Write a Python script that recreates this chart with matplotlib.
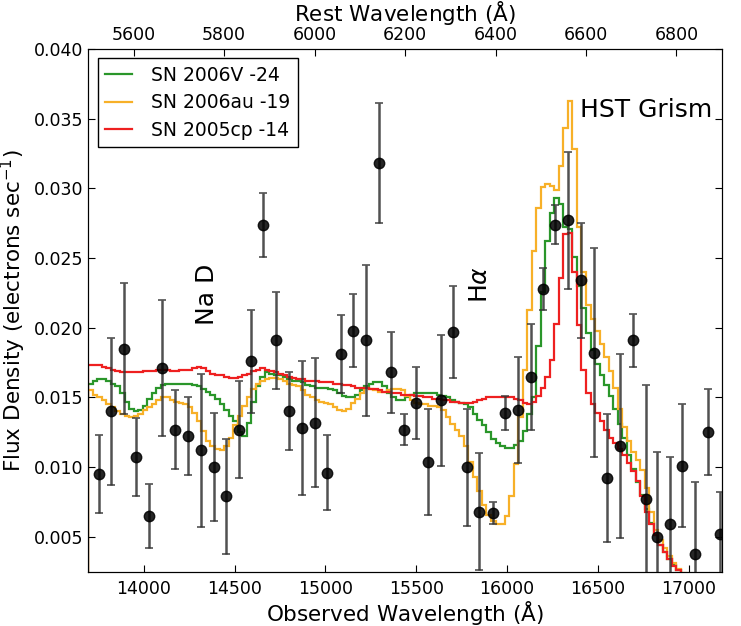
import numpy as np
import matplotlib
matplotlib.use('Agg')
import matplotlib.pyplot as plt

z = 1.49

# model spectra, 10 A bins in the rest frame (5500-6900 A)
rest_edges = np.arange(5500, 6901, 10)

sn2005cp = [
    0.01734, 0.01732, 0.0173, 0.0172, 0.0171, 0.0170, 0.0169, 0.0168, 0.0168, 0.0168,
    0.0168, 0.0168, 0.0169, 0.0169, 0.0169, 0.0170, 0.0170, 0.0170, 0.0169, 0.0169,
    0.0170, 0.0170, 0.0170, 0.0171, 0.0172, 0.0171, 0.0169, 0.0167, 0.0166, 0.0166,
    0.0165, 0.0164, 0.0164, 0.0165, 0.0166, 0.0167, 0.0169, 0.0170, 0.0171, 0.0170,
    0.0169, 0.0168, 0.0167, 0.0166, 0.0165, 0.0164, 0.0163, 0.0163, 0.0162, 0.0162,
    0.0162, 0.0161, 0.0161, 0.0161, 0.0160, 0.0160, 0.0159, 0.0159, 0.0158, 0.0157,
    0.0157, 0.0157, 0.0156, 0.0156, 0.0155, 0.0154, 0.0154, 0.0153, 0.0153, 0.0152,
    0.0152, 0.0152, 0.0151, 0.0151, 0.0150, 0.0150, 0.0149, 0.0149, 0.0148, 0.0148,
    0.0147, 0.0147, 0.0146, 0.0146, 0.0146, 0.0147, 0.0148, 0.0149, 0.0150, 0.0150,
    0.0150, 0.0150, 0.0150, 0.0150, 0.0149, 0.0148, 0.0146, 0.0145, 0.0147, 0.0151,
    0.0157, 0.0165, 0.0177, 0.0203, 0.0236, 0.0267, 0.0268, 0.0240, 0.0202, 0.0170,
    0.0153, 0.0145, 0.0139, 0.0133, 0.0127, 0.0121, 0.0117, 0.0113, 0.0109, 0.0103,
    0.0097, 0.0090, 0.0079, 0.0068, 0.0059, 0.0051, 0.0044, 0.0039, 0.0034, 0.0029,
    0.0026, 0.0023, 0.0021, 0.0019, 0.0017, 0.0015, 0.0014, 0.0013, 0.0012, 0.0011,
]

sn2006v = [
    0.0160, 0.0162, 0.0163, 0.0163, 0.0162, 0.0160, 0.0158, 0.0153, 0.0147, 0.0142,
    0.0140, 0.0141, 0.0144, 0.0149, 0.0153, 0.0157, 0.0159, 0.0160, 0.0160, 0.0160,
    0.0160, 0.0160, 0.0160, 0.0159, 0.0158, 0.0156, 0.0154, 0.0152, 0.0149, 0.0145,
    0.0141, 0.0137, 0.0133, 0.0125, 0.0122, 0.0132, 0.0147, 0.0158, 0.0165, 0.0168,
    0.0167, 0.0166, 0.0166, 0.0165, 0.0163, 0.0162, 0.0162, 0.0161, 0.0159, 0.0158,
    0.0157, 0.0157, 0.0157, 0.0156, 0.0155, 0.0153, 0.0151, 0.0150, 0.0150, 0.0152,
    0.0155, 0.0158, 0.0160, 0.0161, 0.0161, 0.0158, 0.0153, 0.0150, 0.0148, 0.0148,
    0.0150, 0.0152, 0.0153, 0.0153, 0.0153, 0.0153, 0.0153, 0.0152, 0.0151, 0.0150,
    0.0148, 0.0147, 0.0146, 0.0145, 0.0143, 0.0138, 0.0134, 0.0130, 0.0125, 0.0120,
    0.0117, 0.0115, 0.0114, 0.0114, 0.0116, 0.0119, 0.0126, 0.0138, 0.0150, 0.0187,
    0.0226, 0.0262, 0.0282, 0.0293, 0.0289, 0.0272, 0.0271, 0.0251, 0.0230, 0.0214,
    0.0196, 0.0184, 0.0174, 0.0166, 0.0159, 0.0151, 0.0142, 0.0131, 0.0121, 0.0109,
    0.0099, 0.0089, 0.0080, 0.0070, 0.0060, 0.0051, 0.0044, 0.0039, 0.0034, 0.0030,
    0.0026, 0.0023, 0.0021, 0.0019, 0.0017, 0.0015, 0.0014, 0.0013, 0.0012, 0.0011,
]

sn2006au = [
    0.0155, 0.0152, 0.0150, 0.0148, 0.0145, 0.0143, 0.0140, 0.0138, 0.0137, 0.0136,
    0.0137, 0.0138, 0.0141, 0.0143, 0.0145, 0.0148, 0.0150, 0.0150, 0.0148, 0.0147,
    0.0146, 0.0145, 0.0143, 0.0139, 0.0133, 0.0126, 0.0119, 0.0115, 0.0113, 0.0112,
    0.0115, 0.0121, 0.0130, 0.0137, 0.0144, 0.0150, 0.0156, 0.0160, 0.0162, 0.0163,
    0.0164, 0.0164, 0.0163, 0.0162, 0.0160, 0.0159, 0.0158, 0.0155, 0.0152, 0.0150,
    0.0148, 0.0147, 0.0146, 0.0145, 0.0143, 0.0141, 0.0140, 0.0142, 0.0146, 0.0149,
    0.0153, 0.0157, 0.0156, 0.0155, 0.0154, 0.0154, 0.0155, 0.0156, 0.0156, 0.0155,
    0.0151, 0.0148, 0.0146, 0.0145, 0.0145, 0.0144, 0.0144, 0.0143, 0.0141, 0.0136,
    0.0131, 0.0127, 0.0122, 0.0115, 0.0104, 0.0093, 0.0083, 0.0073, 0.0066, 0.0061,
    0.0059, 0.0059, 0.0065, 0.0079, 0.0102, 0.0136, 0.0170, 0.0213, 0.0255, 0.0286,
    0.0301, 0.0303, 0.0302, 0.0299, 0.0316, 0.0343, 0.0363, 0.0328, 0.0272, 0.0240,
    0.0216, 0.0206, 0.0198, 0.0188, 0.0179, 0.0169, 0.0157, 0.0142, 0.0129, 0.0119,
    0.0111, 0.0105, 0.0098, 0.0085, 0.0068, 0.0055, 0.0048, 0.0042, 0.0036, 0.0031,
    0.0027, 0.0024, 0.0022, 0.0020, 0.0018, 0.0016, 0.0015, 0.0014, 0.0013, 0.0012,
]

# binned grism data points
obs_wave = [13751, 13821, 13890, 13960, 14030, 14103, 14172, 14242, 14315, 14385,
            14455, 14524, 14590, 14657, 14728, 14797, 14869, 14940, 15008, 15083,
            15153, 15223, 15292, 15363, 15433, 15497, 15563, 15637, 15704, 15780,
            15847, 15921, 15990, 16062, 16133, 16197, 16263, 16336, 16406, 16479,
            16549, 16619, 16694, 16762, 16824, 16894, 16965, 17035, 17108, 17169]
obs_flux = [0.0095, 0.0140, 0.0185, 0.0107, 0.0065, 0.0171, 0.0127, 0.0122, 0.0112, 0.0100,
            0.0079, 0.0127, 0.0176, 0.0274, 0.0191, 0.0140, 0.0128, 0.0132, 0.0096, 0.0181,
            0.0198, 0.0191, 0.0318, 0.0168, 0.0127, 0.0146, 0.0104, 0.0148, 0.0197, 0.0100,
            0.0068, 0.0067, 0.0139, 0.0141, 0.0165, 0.0228, 0.0274, 0.0277, 0.0234, 0.0182,
            0.0092, 0.0115, 0.0191, 0.0077, 0.0050, 0.0059, 0.0101, 0.0038, 0.0125, 0.0052]
obs_err = [0.0028, 0.0053, 0.0047, 0.0028, 0.0023, 0.0049, 0.0028, 0.0028, 0.0055, 0.0039,
           0.0041, 0.0035, 0.0037, 0.0023, 0.0035, 0.0028, 0.0048, 0.0046, 0.0027, 0.0028,
           0.0026, 0.0054, 0.0043, 0.0029, 0.0011, 0.0026, 0.0038, 0.0047, 0.0033, 0.0042,
           0.0042, 0.0008, 0.0012, 0.0038, 0.0038, 0.0015, 0.0014, 0.0049, 0.0041, 0.0075,
           0.0046, 0.0066, 0.0019, 0.0082, 0.0061, 0.0048, 0.0044, 0.0051, 0.0031, 0.0030]

obs_edges = rest_edges * (1 + z)

fig = plt.figure(figsize=(7.41, 6.26), dpi=100)
ax = fig.add_axes([0.1192, 0.0868, 0.8548, 0.8349])

ax.stairs(sn2006v, obs_edges, color='#2a962a', lw=1.6, label='SN 2006V -24')
ax.stairs(sn2006au, obs_edges, color='#f7b028', lw=1.6, label='SN 2006au -19')
ax.stairs(sn2005cp, obs_edges, color='#ee2020', lw=1.6, label='SN 2005cp -14')

ax.errorbar(obs_wave, obs_flux, yerr=obs_err, fmt='o', color='black', ms=7.5,
            ecolor='#333333', elinewidth=1.8, capsize=3, capthick=1.2, alpha=0.85, zorder=5)

ax.set_xlim(5500 * (1 + z), 6900 * (1 + z))
ax.set_ylim(0.0025, 0.040)
ax.set_xticks([14000, 14500, 15000, 15500, 16000, 16500, 17000])
ax.set_yticks(np.arange(0.005, 0.0401, 0.005))
ax.yaxis.set_major_formatter(matplotlib.ticker.FormatStrFormatter('%.3f'))
ax.tick_params(direction='in', top=False, right=True, length=5, labelsize=12.5)
ax.tick_params(axis='x', pad=6)
ax.set_xlabel(r'Observed Wavelength ($\mathrm{\AA}$)', fontsize=15.5, labelpad=1)
ax.set_ylabel(r'Flux Density (electrons sec$^{-1}$)', fontsize=15.5)

top = ax.twiny()
top.set_xlim(5500, 6900)
top.set_xticks([5600, 5800, 6000, 6200, 6400, 6600, 6800])
top.tick_params(direction='in', length=5, labelsize=12.5)
top.set_xlabel(r'Rest Wavelength ($\mathrm{\AA}$)', fontsize=15.5)

ax.text(14347, 0.0224, 'Na D', rotation=90, fontsize=18, ha='center', va='center')
ax.text(15851, 0.0231, r'H$\alpha$', rotation=90, fontsize=18, ha='center', va='center')
ax.text(16400, 0.0356, 'HST Grism', fontsize=18, ha='left', va='center')

leg = ax.legend(loc='upper left', fontsize=13.5, handlelength=1.45, handletextpad=1.0,
                labelspacing=0.45, fancybox=False, borderaxespad=0.5, framealpha=1)
leg.get_frame().set_edgecolor('black')

fig.savefig('out.png', dpi=100)
